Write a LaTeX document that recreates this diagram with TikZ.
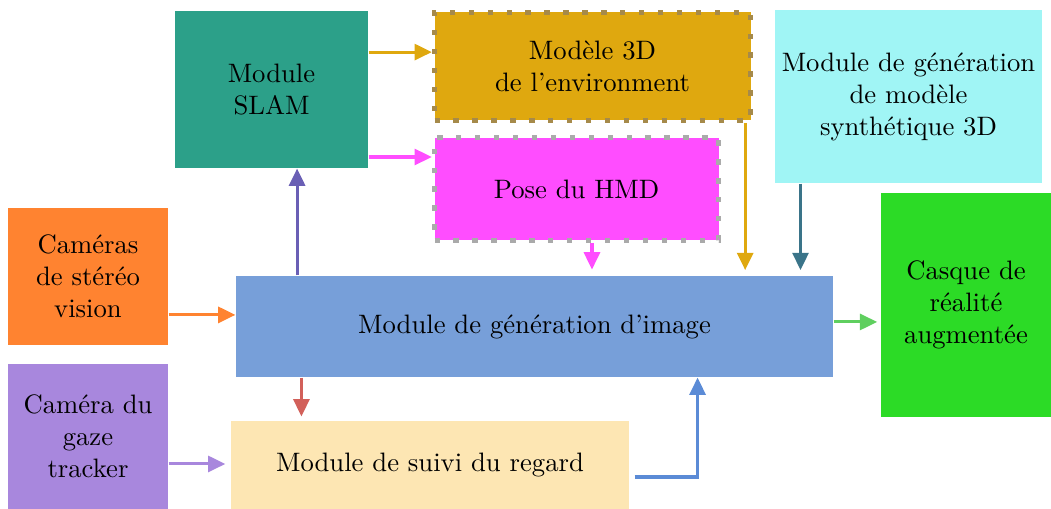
\documentclass[tikz,border=0pt]{standalone}
\usepackage{tikz}
\usetikzlibrary{arrows.meta,positioning}
\definecolor{slamgreen}{HTML}{2CA089}
\definecolor{gold}{HTML}{DFA80F}
\definecolor{goldline}{HTML}{A68A4A}
\definecolor{pink}{HTML}{FF4DFF}
\definecolor{greyline}{HTML}{AAAAAA}
\definecolor{cyanpale}{HTML}{A0F5F5}
\definecolor{hmdgreen}{HTML}{2CDB26}
\definecolor{camorange}{HTML}{FF8330}
\definecolor{imgblue}{HTML}{779FD9}
\definecolor{gazepurple}{HTML}{A887DD}
\definecolor{suivipale}{HTML}{FDE6B3}
\definecolor{slamarrow}{HTML}{6A5FB5}
\definecolor{synarrow}{HTML}{3A7489}
\definecolor{hmdarrow}{HTML}{5FCF5F}
\definecolor{suiviarrow}{HTML}{D2605A}
\definecolor{backarrow}{HTML}{5B8BD6}

\begin{document}
\begin{tikzpicture}[
  x=0.375pt,
  y=0.375pt,
  block/.style={
    rectangle,inner sep=0pt,align=center,text=black
  },
  dotbox/.style={
    block,line width=2pt,dash pattern=on 2pt off 5.1pt
  },
  link/.style={
    -{Triangle[length=6.5pt,width=6pt]},line width=1.15pt
  }
]
  \useasboundingbox (0,0) rectangle (1051,509);

  % boxes
  \node[block,fill=slamgreen,minimum width=72.4pt,minimum height=58.9pt]
    (slam) at (271.5,419.5) {Module\\SLAM};
  \node[dotbox,fill=gold,draw=goldline,minimum width=118.5pt,minimum height=40.5pt]
    (model) at (592.5,442.5) {Modèle 3D\\de l’environment};
  \node[dotbox,fill=pink,draw=greyline,minimum width=106.5pt,minimum height=38.5pt]
    (pose) at (576.5,320) {Pose du HMD};
  \node[block,fill=cyanpale,minimum width=100.1pt,minimum height=64.9pt]
    (synth) at (908.5,412.5) {Module de génération\\de modèle\\synthétique 3D};
  \node[block,fill=hmdgreen,minimum width=63.8pt,minimum height=84pt]
    (casque) at (966,204) {Casque de\\réalité\\augmentée};
  \node[block,fill=camorange,minimum width=60pt,minimum height=51.4pt]
    (cam) at (88,232.5) {Caméras\\de stéréo\\vision};
  \node[block,fill=imgblue,minimum width=223.9pt,minimum height=37.9pt]
    (img) at (534.5,182.5) {Module de génération d’image};
  \node[block,fill=gazepurple,minimum width=60pt,minimum height=54.4pt]
    (gaze) at (88,72.5) {Caméra du\\gaze\\tracker};
  \node[block,fill=suivipale,minimum width=149.3pt,minimum height=33pt]
    (suivi) at (430,44) {Module de suivi du regard};

  % anchor points for the connectors
  \coordinate (m1) at ([yshift=5.4pt]model.west);
  \coordinate (p1) at ([yshift=12pt]pose.west);
  \coordinate (s1) at ([xshift=9.6pt]slam.south);
  \coordinate (p2) at ([xshift=5.8pt]pose.south);
  \coordinate (m2) at ([xshift=-3pt]model.south east);
  \coordinate (g1) at ([xshift=9.75pt]synth.south west);
  \coordinate (i1) at ([yshift=1.7pt]img.east);
  \coordinate (c1) at ([yshift=-14.4pt]cam.east);
  \coordinate (i2) at ([xshift=24.75pt]img.south west);
  \coordinate (t1) at ([yshift=-10.3pt]gaze.east);
  \coordinate (r1) at ([xshift=1.9pt,yshift=-4.5pt]suivi.east);
  \coordinate (i3) at ([xshift=-51pt]img.south east);

  % connectors
  \draw[link,draw=gold] (slam.east |- m1) -- (m1);
  \draw[link,draw=pink] (slam.east |- p1) -- (p1);
  \draw[link,draw=slamarrow] (img.north -| s1) -- (s1);
  \draw[link,draw=pink,shorten >=2.2pt] (p2) -- (p2 |- img.north);
  \draw[link,draw=gold,shorten >=2pt] (m2) -- (m2 |- img.north);
  \draw[link,draw=synarrow,shorten >=2pt] (g1) -- (g1 |- img.north);
  \draw[link,draw=hmdarrow,shorten >=1.2pt] (i1) -- (i1 -| casque.west);
  \draw[link,draw=camorange] (c1) -- (c1 -| img.west);
  \draw[link,draw=suiviarrow,shorten >=1.5pt] (i2) -- (i2 |- suivi.north);
  \draw[link,draw=gazepurple,shorten >=1.9pt] (t1) -- (t1 -| suivi.west);
  \draw[link,draw=backarrow] (r1) -| (i3);
\end{tikzpicture}
\end{document}
